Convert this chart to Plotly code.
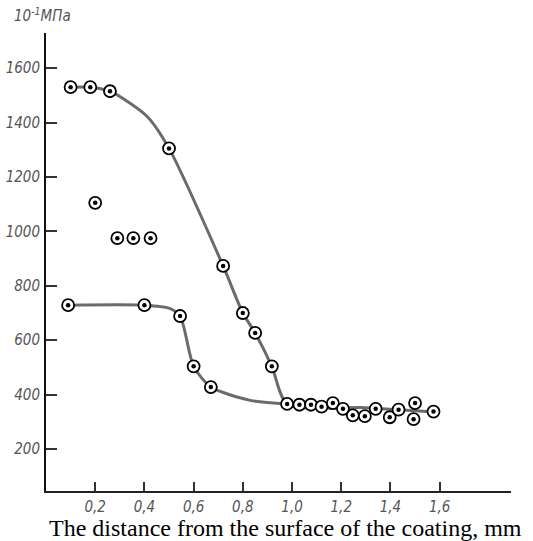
import plotly.graph_objects as go

# measured points
upper_x = [0.10, 0.18, 0.26, 0.50, 0.72, 0.80, 0.85, 0.918]
upper_y = [1530, 1530, 1515, 1305, 873, 700, 627, 504]
lower_x = [0.09, 0.40, 0.545, 0.60, 0.67]
lower_y = [729, 729, 689, 504, 428]
scatter_x = [0.20, 0.29, 0.355, 0.425]
scatter_y = [1105, 975, 975, 975]
tail_x = [0.98, 1.03, 1.077, 1.12, 1.166, 1.207, 1.247, 1.296, 1.34, 1.397, 1.433, 1.494, 1.50, 1.575]
tail_y = [366, 363, 363, 356, 369, 348, 324, 321, 348, 317, 345, 310, 369, 338]

# fitted curves
curve_up_x = [0.10, 0.18, 0.26, 0.41, 0.50, 0.72, 0.80, 0.85, 0.918, 0.98, 1.3, 1.60]
curve_up_y = [1530, 1530, 1515, 1423, 1305, 873, 700, 627, 504, 366, 352, 335]
curve_lo_x = [0.09, 0.40, 0.50, 0.545, 0.60, 0.67, 0.83, 0.98]
curve_lo_y = [729, 729, 718, 689, 504, 428, 379, 366]

x_ticks = [0.2, 0.4, 0.6, 0.8, 1.0, 1.2, 1.4, 1.6]
x_tick_labels = ["0,2", "0,4", "0,6", "0,8", "1,0", "1,2", "1,4", "1,6"]
y_ticks = [200, 400, 600, 800, 1000, 1200, 1400, 1600]
y_tick_labels = ["200", "400", "600", "800", "1000", "1200", "1400", "1600"]

LINE = "#6b6b6b"
fig = go.Figure()
fig.add_trace(go.Scatter(x=curve_up_x, y=curve_up_y, mode="lines",
                         line=dict(color=LINE, width=3, shape="spline", smoothing=0.7),
                         hoverinfo="skip"))
fig.add_trace(go.Scatter(x=curve_lo_x, y=curve_lo_y, mode="lines",
                         line=dict(color=LINE, width=3, shape="spline", smoothing=0.7),
                         hoverinfo="skip"))

all_x = upper_x + lower_x + scatter_x + tail_x
all_y = upper_y + lower_y + scatter_y + tail_y
fig.add_trace(go.Scatter(x=all_x, y=all_y, mode="markers",
                         marker=dict(symbol="circle", size=12, color="white",
                                     line=dict(color="black", width=1.8))))
fig.add_trace(go.Scatter(x=all_x, y=all_y, mode="markers",
                         marker=dict(symbol="circle", size=4.5, color="black",
                                     line=dict(width=0))))

tickfont = dict(family="Liberation Sans Narrow, DejaVu Sans Condensed, sans-serif",
                size=15, color="#555", style="italic")

fig.update_layout(
    width=533, height=541,
    margin=dict(l=46, r=22, t=33, b=50),
    paper_bgcolor="white", plot_bgcolor="white",
    showlegend=False,
    xaxis=dict(range=[0, 1.89], tickvals=x_ticks, ticktext=x_tick_labels,
               ticks="inside", ticklen=9, tickwidth=2, tickcolor="#333",
               showline=True, linecolor="#222", linewidth=2, automargin=False,
               showgrid=False, zeroline=False, tickfont=tickfont, ticklabelstandoff=1),
    yaxis=dict(range=[46, 1729], tickvals=y_ticks, ticktext=y_tick_labels,
               ticks="inside", ticklen=11, tickwidth=2, tickcolor="#333",
               showline=True, linecolor="#111", linewidth=2, automargin=False,
               showgrid=False, zeroline=False, tickfont=tickfont, ticklabelstandoff=1),
)
fig.add_annotation(text="10<sup>-1</sup>МПа", xref="paper", yref="paper",
                   x=-34/465, y=1 + 18/458, xanchor="left", yanchor="middle",
                   showarrow=False, font=dict(tickfont, size=15))
fig.add_annotation(text="The distance from the surface of the coating, mm",
                   xref="paper", yref="paper", x=(285 - 46) / 465, y=-37/458,
                   xanchor="center", yanchor="middle", showarrow=False,
                   font=dict(family="Liberation Serif, Times New Roman, serif",
                             size=24, color="black"))

fig.write_html("out.html", config={"displayModeBar": False},
               post_script="document.body.style.margin='0';document.body.style.overflow='hidden';")
